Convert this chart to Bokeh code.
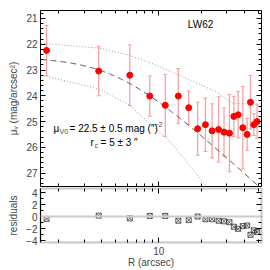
import numpy as np
from bokeh.plotting import figure
from bokeh.layouts import column
from bokeh.models import (Range1d, LinearAxis, LogAxis, FixedTicker, CustomJSTickFormatter,
                          BasicTickFormatter, Whisker, TeeHead, ColumnDataSource, Label, Span)
from bokeh.embed import file_html
from bokeh.resources import INLINE

# ---- data ----
R = [1.64, 3.80, 6.27, 8.65, 11.1, 13.7, 16.2, 18.7, 21.2, 23.6,
     26.2, 28.6, 31.2, 33.5, 35.9, 38.7, 41.5, 43.8, 46.2, 48.7]
mu = [22.24, 23.04, 23.20, 24.01, 24.37, 24.01, 24.46, 25.28, 25.12, 25.36,
      25.31, 25.41, 25.45, 24.80, 24.74, 25.24, 25.50, 24.25, 25.12, 25.00]
mu_err = [0.97, 0.96, 1.18, 0.78, 1.20, 1.07, 0.65, 1.03, 1.04, 1.05,
          1.27, 0.94, 1.50, 0.78, 0.90, 1.60, 0.62, 1.04, 0.42, 0.65]
resid = [-0.40, 0.15, -0.30, 0.10, 0.10, -0.70, -0.60, 0.00, -0.45, -0.45,
         -0.70, -0.80, -0.95, -1.70, -2.05, -1.60, -1.50, -3.05, -2.30, -2.60]

mu0 = 22.5
rc = 5.0

upper_R = [1.49, 1.64, 3.80, 6.34, 9.48, 14.95, 25.6, 31.7, 34.9, 52.2]
upper_mu = [21.95, 21.98, 22.15, 22.44, 22.80, 23.28, 23.86, 24.25, 24.31, 24.31]
lower_R = [1.49, 3.07, 4.02, 6.17, 8.75, 12.07, 17.57, 21.2, 23.0]
lower_mu = [23.20, 23.60, 23.79, 24.35, 25.09, 25.80, 26.90, 27.47, 27.80]

mu_ticks = [21, 22, 23, 24, 25, 26, 27]
res_ticks = [-4, -2, 0, 2, 4]
x_ticks = [10]
x_minor = [2, 3, 4, 5, 6, 7, 8, 9, 20, 30, 40, 50]

FONT = "Liberation Sans"
FS = "10px"

xr = Range1d(1.488, 52.3)

def style_axis(ax, labels=True):
    ax.axis_line_color = None
    ax.major_tick_in = 5
    ax.major_tick_out = 0
    ax.minor_tick_in = 3
    ax.minor_tick_out = 0
    ax.major_tick_line_color = "black"
    ax.minor_tick_line_color = "black"
    ax.major_label_text_font = FONT
    ax.axis_label_text_font = FONT
    ax.axis_label_text_font_style = "normal"
    ax.axis_label_text_font_size = FS
    ax.major_label_text_font_size = FS
    if labels:
        ax.major_label_standoff = 3
        ax.axis_label_standoff = 4
    else:
        ax.formatter = CustomJSTickFormatter(code="return '';")
        ax.major_label_standoff = 0

def xticker():
    return FixedTicker(ticks=x_ticks, minor_ticks=x_minor)

# ---------------- top panel ----------------
top = figure(width=270, height=187, x_axis_type="log", x_range=xr,
             y_range=Range1d(27.52, 20.69), output_backend="svg",
             toolbar_location=None, x_axis_location=None, y_axis_location=None,
             min_border_left=40, min_border_right=9, min_border_top=10, min_border_bottom=1)
top.grid.visible = False
top.outline_line_color = "black"
top.background_fill_color = "white"

mu_tick = FixedTicker(ticks=mu_ticks, minor_ticks=list(np.round(np.arange(20.8, 27.6, 0.2), 2)))
lax = LinearAxis(ticker=mu_tick, axis_label="μᵥ (mag/arcsec²)")
style_axis(lax)
top.add_layout(lax, "left")
rax = LinearAxis(ticker=mu_tick)
style_axis(rax, labels=False)
top.add_layout(rax, "right")
for loc in ("below", "above"):
    ax = LogAxis(ticker=xticker())
    style_axis(ax, labels=False)
    top.add_layout(ax, loc)

# model curves
Rg = np.logspace(np.log10(1.488), np.log10(52.3), 200)
mu_model = mu0 + 2.5 * np.log10(1 + (Rg / rc) ** 2)
top.line(Rg, mu_model, line_color="#555555", line_dash="6 4", line_width=1)
top.line(upper_R, upper_mu, line_color="#9a9a9a", line_dash="1 2", line_width=1)
top.line(lower_R, lower_mu, line_color="#9a9a9a", line_dash="1 2", line_width=1)

src = ColumnDataSource(dict(R=R, mu=mu,
                            lo=[m - e for m, e in zip(mu, mu_err)],
                            hi=[m + e for m, e in zip(mu, mu_err)]))
wh = Whisker(source=src, base="R", lower="lo", upper="hi", dimension="height",
             line_color="#f5a3a3", line_width=1.3,
             upper_head=TeeHead(size=4, line_color="#f5a3a3", line_width=1),
             lower_head=TeeHead(size=4, line_color="#f5a3a3", line_width=1))
top.add_layout(wh)
top.scatter("R", "mu", source=src, size=6, color="#ff0000", line_color="#ff0000")

lab = dict(text_font=FONT, text_font_size=FS, text_color="black", text_baseline="middle")
top.add_layout(Label(x=19.6, y=21.23, text="LW62", text_align="center", **lab))
# mu_V0 line
x1, y1 = 1.835, 25.25
top.add_layout(Label(x=x1, y=y1, text="μ", **lab))
top.add_layout(Label(x=x1, y=y1, x_offset=6, y_offset=-3, text="V0",
                     text_font=FONT, text_font_size="7px", text_baseline="middle"))
top.add_layout(Label(x=x1, y=y1, x_offset=16, text="= 22.5 ± 0.5 mag (″)", **lab))
top.add_layout(Label(x=x1, y=y1, x_offset=101, y_offset=4, text="−2",
                     text_font=FONT, text_font_size="7px", text_baseline="middle"))
# r_c line
x2, y2 = 3.33, 25.8
top.add_layout(Label(x=x2, y=y2, text="r", **lab))
top.add_layout(Label(x=x2, y=y2, x_offset=4, y_offset=-3, text="c",
                     text_font=FONT, text_font_size="7px", text_baseline="middle"))
top.add_layout(Label(x=x2, y=y2, x_offset=10, text="= 5 ± 3 ″", **lab))

# ---------------- residual panel ----------------
bot = figure(width=270, height=83, x_axis_type="log", x_range=xr,
             y_range=Range1d(-4.33, 4.67), output_backend="svg",
             toolbar_location=None, x_axis_location=None, y_axis_location=None,
             min_border_left=40, min_border_right=9, min_border_top=1, min_border_bottom=28)
bot.grid.visible = False
bot.outline_line_color = "#c8c8c8"
bot.outline_line_width = 2

res_tick = FixedTicker(ticks=res_ticks, minor_ticks=[-3, -1, 1, 3])
lax2 = LinearAxis(ticker=res_tick, axis_label="residuals")
style_axis(lax2)
lax2.axis_line_color = "black"
bot.add_layout(lax2, "left")
rax2 = LinearAxis(ticker=res_tick)
style_axis(rax2, labels=False)
bot.add_layout(rax2, "right")
bax = LogAxis(ticker=xticker(), formatter=BasicTickFormatter(), axis_label="R (arcsec)")
style_axis(bax)
bax.major_label_standoff = 4
bax.axis_label_standoff = -1
bot.add_layout(bax, "below")
aax = LogAxis(ticker=xticker())
style_axis(aax, labels=False)
bot.add_layout(aax, "above")

bot.add_layout(Span(location=0, dimension="width", line_color="#cccccc", line_width=2))
bot.scatter(R, resid, marker="square_x", size=5, fill_color=None,
            line_color="#333333", line_width=0.8)

lay = column(top, bot, spacing=0)
open("out.html", "w").write(file_html(lay, INLINE))
